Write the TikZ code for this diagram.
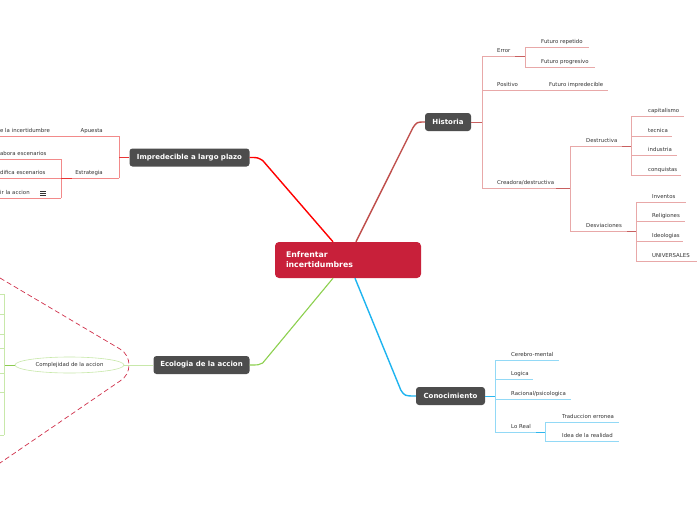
\documentclass[tikz,border=0pt]{standalone}
\usepackage{fontspec}
\setmainfont{DejaVu Sans}
\usetikzlibrary{shapes.geometric}
\definecolor{boxgray}{HTML}{4D4D4D}
\definecolor{crimson}{HTML}{C8203A}
\definecolor{txt}{HTML}{333333}
\definecolor{histc}{HTML}{C0504D}
\definecolor{hl}{HTML}{E8A8A8}
\definecolor{hstubc}{HTML}{C86060}
\definecolor{il}{HTML}{F28A8A}
\definecolor{istubc}{HTML}{E83535}
\definecolor{cl}{HTML}{92D9F6}
\definecolor{cstubc}{HTML}{2DB6EE}
\definecolor{gl}{HTML}{C8E8AA}
\definecolor{gstubc}{HTML}{8CCB50}
\definecolor{bluec}{HTML}{1EB4F0}
\definecolor{greenc}{HTML}{8CD04E}
\definecolor{dashc}{HTML}{D0304A}
\tikzset{
  mainbox/.style={rounded corners=3pt, fill=boxgray, text=white,
    font=\bfseries\fontsize{7}{8}\selectfont, minimum height=18pt, inner sep=0pt},
  rt/.style={anchor=south west, inner xsep=0pt, inner ysep=3pt, align=left,
    text height=4pt, text depth=0pt, font=\fontsize{5.4}{6}\selectfont, text=txt},
  lt/.style={anchor=south east, inner xsep=0pt, inner ysep=3pt, align=right,
    text height=4pt, text depth=0pt, font=\fontsize{5.4}{6}\selectfont, text=txt},
  hline/.style={draw=hl, line width=0.6pt},
  hstub/.style={draw=hstubc, line width=0.9pt},
  iline/.style={draw=il, line width=0.6pt},
  istub/.style={draw=istubc, line width=0.9pt},
  cline/.style={draw=cl, line width=0.6pt},
  cstub/.style={draw=cstubc, line width=0.9pt},
  gline/.style={draw=gl, line width=0.6pt},
  gstub/.style={draw=gstubc, line width=1pt},
}
\begin{document}
\begin{tikzpicture}[x=1pt,y=-1pt]
\useasboundingbox (0,0) rectangle (697,520);
\clip (0,0) rectangle (697,520);
\fill[white] (0,0) rectangle (697,520);

% ---------- main nodes
\node[rounded corners=4pt, fill=crimson, text=white, minimum width=146pt, minimum height=36pt,
  text width=124pt, inner xsep=11pt, inner ysep=0pt, align=left,
  font=\bfseries\fontsize{7.8}{10}\selectfont] (c) at (348,260) {Enfrentar\\incertidumbres};
\node[mainbox, minimum width=46pt] (hist) at (448,122) {Historia};
\node[mainbox, minimum width=120pt] (impr) at (189.5,157.5) {Impredecible a largo plazo};
\node[mainbox, minimum width=96pt] (eco) at (201.5,365) {Ecologia de la accion};
\node[mainbox, minimum width=69pt] (cono) at (450.5,396) {Conocimiento};

% ---------- main connectors
\draw[red, line width=1.4pt] ([xshift=-15pt]c.north) -- ([xshift=13pt,yshift=-3pt]impr.east)
  .. controls ([xshift=8pt]impr.east) .. (impr.east);
\draw[histc, line width=1.4pt] ([xshift=8pt]c.north) -- ([xshift=-12pt,yshift=-6pt]hist.west)
  .. controls ([xshift=-8pt]hist.west) .. (hist.west);
\draw[greenc, line width=1.1pt] ([xshift=-15pt]c.south) -- ([xshift=13pt,yshift=2pt]eco.east)
  .. controls ([xshift=9pt]eco.east) .. (eco.east);
\draw[bluec, line width=1.4pt] ([xshift=7pt]c.south) -- ([xshift=-15pt,yshift=6pt]cono.west)
  .. controls ([xshift=-11pt]cono.west) .. (cono.west);

% ---------- Historia subtree
\node[rt, text width=43pt] (err) at (482,56) {\hspace*{15pt}Error};
\node[rt, text width=64pt] (frep) at (525,47) {\hspace*{16pt}Futuro repetido};
\node[rt, text width=70pt] (fprog) at (525,67) {\hspace*{16pt}Futuro progresivo};
\node[rt, text width=52pt] (pos) at (482,90) {\hspace*{15pt}Positivo};
\node[rt, text width=74pt] (fimp) at (534,90) {\hspace*{15pt}Futuro impredecible};
\node[rt, text width=88pt] (crea) at (482,188) {\hspace*{15pt}Creadora/destructiva};
\node[rt, text width=61pt] (des) at (570,146) {\hspace*{16pt}Destructiva};
\node[rt, text width=53pt] (cap) at (631,116) {\hspace*{17pt}capitalismo};
\node[rt, text width=41pt] (tec) at (631,136) {\hspace*{17pt}tecnica};
\node[rt, text width=46pt] (ind) at (631,155) {\hspace*{17pt}industria};
\node[rt, text width=50pt] (conq) at (631,175) {\hspace*{17pt}conquistas};
\node[rt, text width=66pt] (desv) at (570,231) {\hspace*{16pt}Desviaciones};
\node[rt, text width=50pt] (inv) at (636,202) {\hspace*{16pt}Inventos};
\node[rt, text width=49pt] (rel) at (636,221) {\hspace*{16pt}Religiones};
\node[rt, text width=47pt] (ideo) at (636,241) {\hspace*{16pt}Ideologias};
\node[rt, text width=61pt] (univ) at (636,261) {\hspace*{16pt}UNIVERSALES};

\foreach \n in {err,frep,fprog,pos,fimp,crea,des,cap,tec,ind,conq,desv,inv,rel,ideo,univ}
  \draw[hline] (\n.south west) -- (\n.south east);
\draw[hline] (err.south west) -- (crea.south west);
\draw[hline] (frep.south west) -- (fprog.south west);
\draw[hline] (des.south west) -- (desv.south west);
\draw[hline] (cap.south west) -- (conq.south west);
\draw[hline] (inv.south west) -- (univ.south west);
\draw[hstub] (hist.east) -- (hist.east -| err.south west);
\draw[hstub] ([xshift=-10pt]err.south east) -- (err.south east);
\draw[hstub] ([xshift=-14pt]crea.south east) -- (crea.south east);
\draw[hstub] ([xshift=-9pt]des.south east) -- (des.south east);
\draw[hstub] ([xshift=-9pt]desv.south east) -- (desv.south east);

% ---------- Impredecible subtree (left)
\node[lt, text width=53pt] (apu) at (119,136) {Apuesta\hspace*{16pt}};
\node[lt, align=left, text width=66pt] (inc) at (66,136) {\hspace*{0.3pt}e la incertidumbre};
\node[lt, text width=58pt] (estr) at (119,178) {Estrategia\hspace*{16pt}};
\node[lt, align=left, text width=61pt] (elab) at (61,159) {\hspace*{0.3pt}abora escenarios};
\node[lt, align=left, text width=61pt] (modi) at (61,178) {\hspace*{0.3pt}difica escenarios};
\node[lt, align=left, text width=61pt] (ira) at (61,198) {\hspace*{0.3pt}ir la accion};
\foreach \n in {apu,inc,estr,elab,modi,ira}
  \draw[iline] (\n.south west) -- (\n.south east);
\draw[iline] (apu.south east) -- (estr.south east);
\draw[iline] (elab.south east) -- (ira.south east);
\draw[istub] (impr.west) -- (impr.west -| apu.south east);
\draw[istub] ([xshift=11pt]estr.south west) -- (estr.south west);
% menu icon
\foreach \yy in {191,193,195}
  \draw[txt, line width=0.5pt] (40,\yy) -- (45.5,\yy);

% ---------- Ecologia subtree (left)
\node[ellipse, draw=gl, line width=0.6pt, minimum width=109pt, minimum height=16pt, inner sep=0pt,
  font=\fontsize{5.4}{6}\selectfont, text=txt] (comp) at (69.5,365) {Complejidad de la accion};
\draw[gline] (eco.west) -- (comp.east);
\coordinate (gj) at (4,365);
\draw[gstub] (comp.west) -- (gj);
\foreach \yy [count=\i] in {294,314,334,348,373,392,435}
  \coordinate (g\i) at (0,\yy);
\draw[gline] (g1 -| gj) -- (g7 -| gj);
\foreach \i in {1,...,7}
  \draw[gline] (g\i) -- (g\i -| gj);

% dashed boundary
\draw[dashc, line width=0.7pt, dash pattern=on 5pt off 3pt]
  (0,278) -- (120,349) .. controls (132,356) and (132,374) .. (120,381) -- (0,463);

% ---------- Conocimiento subtree
\node[rt, text width=64pt] (cer) at (495,360) {\hspace*{16pt}Cerebro-mental};
\node[rt, text width=38pt] (log) at (495,379) {\hspace*{16pt}Logica};
\node[rt, text width=76pt] (rac) at (495,399) {\hspace*{16pt}Racional/psicologica};
\node[rt, text width=50pt] (real) at (495,432) {\hspace*{16pt}Lo Real};
\node[rt, text width=74pt] (trad) at (545,422) {\hspace*{17pt}Traduccion erronea};
\node[rt, text width=74pt] (idea) at (545,441) {\hspace*{17pt}Idea de la realidad};
\foreach \n in {cer,log,rac,real,trad,idea}
  \draw[cline] (\n.south west) -- (\n.south east);
\draw[cline] (cer.south west) -- (real.south west);
\draw[cline] (trad.south west) -- (idea.south west);
\draw[cstub] (cono.east) -- (cono.east -| cer.south west);
\draw[cstub] ([xshift=-9pt]real.south east) -- (real.south east);
\end{tikzpicture}
\end{document}
